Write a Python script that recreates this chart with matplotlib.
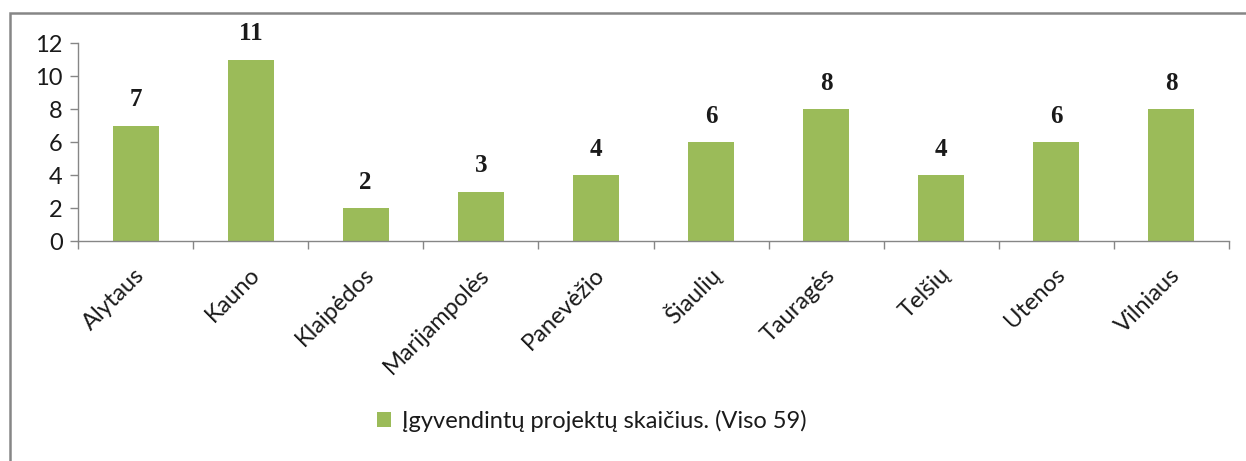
import matplotlib.pyplot as plt
from matplotlib.patches import Rectangle

# data
regions = ['Alytaus', 'Kauno', 'Klaipėdos', 'Marijampolės', 'Panevėžio',
           'Šiaulių', 'Tauragės', 'Telšių', 'Utenos', 'Vilniaus']
projects = [7, 11, 2, 3, 4, 6, 8, 4, 6, 8]
legend_label = 'Įgyvendintų projektų skaičius. (Viso 59)'
yticks = [0, 2, 4, 6, 8, 10, 12]

bar_color = '#9BBB59'
axis_color = '#868686'
text_color = '#1a1a1a'

plt.rcParams['font.family'] = ['Lato', 'DejaVu Sans']

fig = plt.figure(figsize=(12.46, 4.61), dpi=100)
W, H = 1246, 461
# axes placement in pixels: x 78..1229, y 43..241 (from top)
ax = fig.add_axes([78 / W, 1 - 241 / H, (1229 - 78) / W, (241 - 43) / H])

x = range(len(regions))
ax.bar(x, projects, width=0.4, color=bar_color, label=legend_label, zorder=2)

# value labels
for xi, v in zip(x, projects):
    ax.text(xi, v + 0.85, str(v), ha='center', va='bottom', fontsize=18,
            fontweight='bold', family='Liberation Serif', color=text_color)

ax.set_xlim(-0.5, len(regions) - 0.5)
ax.set_ylim(0, 12)
ax.set_yticks(yticks)
ax.tick_params(axis='y', length=6, width=1, color=axis_color, labelsize=17,
               pad=5, labelcolor=text_color)

# category tick marks at boundaries, labels at centers
ax.set_xticks([i - 0.5 for i in range(len(regions) + 1)])
ax.set_xticklabels([])
ax.tick_params(axis='x', length=6, width=1, color=axis_color)
for xi, name in zip(x, regions):
    ax.annotate(name, xy=(xi, 0), xycoords=('data', 'axes fraction'),
                xytext=(4, -22), textcoords='offset points', rotation=45,
                ha='right', va='center', rotation_mode='anchor', fontsize=17,
                color=text_color)

for side in ['top', 'right']:
    ax.spines[side].set_visible(False)
for side in ['left', 'bottom']:
    ax.spines[side].set_color(axis_color)
    ax.spines[side].set_linewidth(1)

leg = fig.legend(loc='center', bbox_to_anchor=(592 / W, 1 - 421 / H),
                 frameon=False, fontsize=17, handlelength=0.6, handleheight=0.6,
                 handletextpad=0.45)
for t in leg.get_texts():
    t.set_color(text_color)

# outer chart frame (cut off at right and bottom in the reference)
fig.patches.append(Rectangle((10 / W, -0.1), 1.2, 1 - 13 / H + 0.1,
                             transform=fig.transFigure, fill=False,
                             edgecolor=axis_color, linewidth=1.8))

fig.savefig('out.png', dpi=100)
